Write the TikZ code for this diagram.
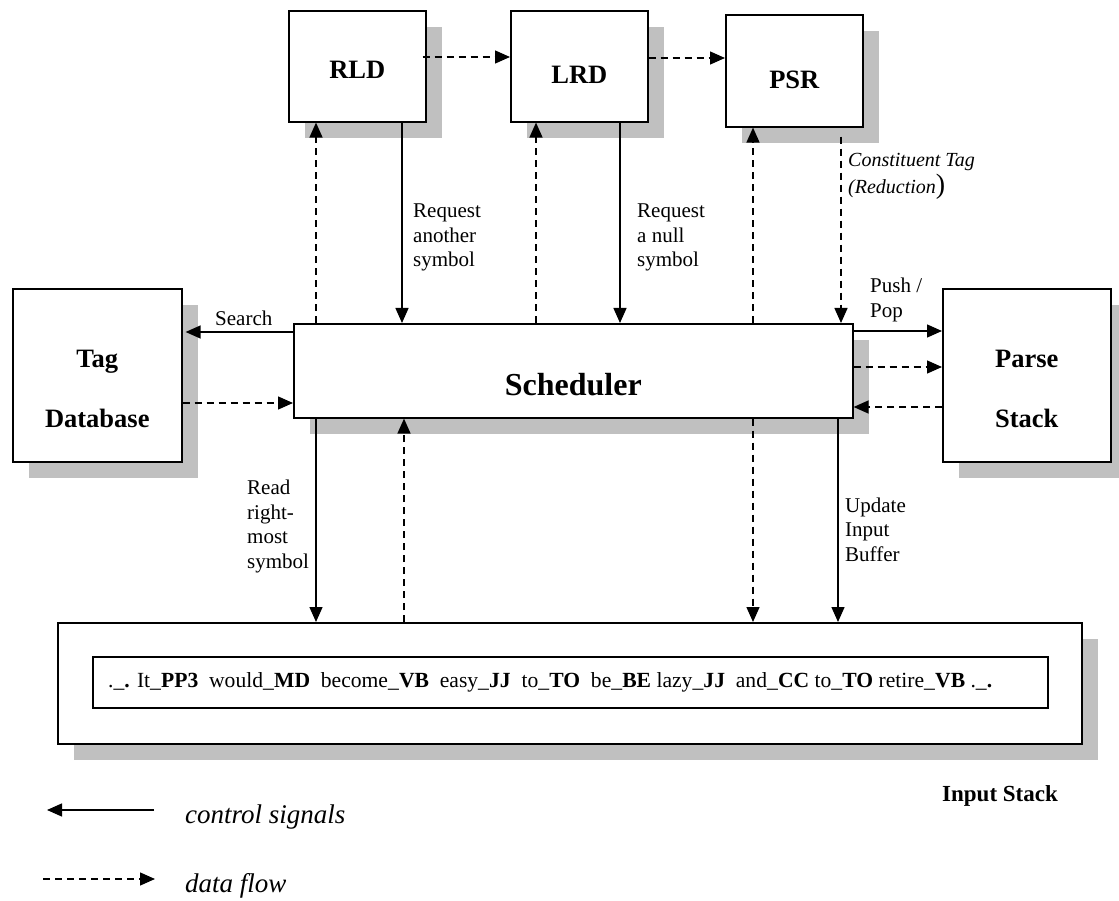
\documentclass[tikz,border=0pt]{standalone}
\usepackage{fontspec}
\setmainfont{Liberation Serif}
\usetikzlibrary{arrows.meta,shadows,calc}
\definecolor{shadowgray}{RGB}{192,192,192}
\begin{document}
\begin{tikzpicture}[x=1pt,y=-1pt,
  box/.style={draw=black, line width=1.6pt, fill=white, inner sep=0pt,
    anchor=north west, align=center,
    font=\bfseries\fontsize{26.5}{60}\selectfont,
    drop shadow={shadow xshift=16pt, shadow yshift=-16pt, fill=shadowgray,
      opacity=1, draw=none}},
  ctrl/.style={line width=1.4pt, -{Triangle[length=15pt,width=13pt]}},
  data/.style={ctrl, dash pattern=on 7pt off 5pt},
  lbl/.style={anchor=base west, inner sep=0pt, align=left,
    font=\fontsize{21}{24.5}\selectfont},
  note/.style={anchor=base west, inner sep=0pt, align=left,
    font=\itshape\fontsize{20}{27}\selectfont},
  legend/.style={anchor=base west, inner sep=0pt,
    font=\itshape\fontsize{27}{30}\selectfont},
]
\useasboundingbox (0,0) rectangle (1119,901);

% processing modules
\node[box, minimum width=137pt, minimum height=111pt, text height=24pt, text depth=0pt]
  (rld) at (288,10) {RLD};
\node[box, minimum width=137pt, minimum height=111pt, text height=34pt, text depth=0pt]
  (lrd) at (510,10) {LRD};
\node[box, minimum width=137pt, minimum height=112pt, text height=35pt, text depth=0pt]
  (psr) at (725,14) {PSR};
\node[box, minimum width=559pt, minimum height=94pt, text height=50pt, text depth=0pt,
  font=\bfseries\fontsize{32}{36}\selectfont]
  (sched) at (293,323) {Scheduler};
\node[box, minimum width=169pt, minimum height=173pt]
  (tagdb) at (12,288) {\rule{0pt}{45pt}Tag\\Database};
\node[box, minimum width=168pt, minimum height=173pt]
  (parse) at (942,288) {\rule{0pt}{45pt}Parse\\Stack};
\node[box, minimum width=1024pt, minimum height=121pt]
  (instack) at (57,622) {};
\node[draw=black, line width=1.6pt, fill=white, inner sep=0pt, anchor=north west,
  minimum width=955pt, minimum height=51pt] (buffer) at (92,656) {};

% tagged sentence held in the input buffer
\node[lbl, font=\fontsize{21.6}{24.5}\selectfont] (sentence) at (108,687)
  {.\_\textbf{.} It\_\textbf{PP3}\ \ would\_\textbf{MD}\ \ become\_\textbf{VB}\ \ easy\_\textbf{JJ}\ \ to\_\textbf{TO}\ \ be\_\textbf{BE} lazy\_\textbf{JJ}\ \ and\_\textbf{CC} to\_\textbf{TO} retire\_\textbf{VB} .\_\textbf{.}};
\node[anchor=base west, inner sep=0pt, font=\bfseries\fontsize{23}{26}\selectfont]
  (instacklbl) at (942,801) {Input Stack};

% scheduler <-> modules
\draw[data] ($(sched.north west)+(23,0)$) -- ($(rld.south west)+(28,0)$);
\draw[ctrl] ($(rld.south west)+(114,0)$) -- ($(sched.north west)+(109,0)$);
\draw[data] ($(sched.north west)+(243,0)$) -- ($(lrd.south west)+(26,0)$);
\draw[ctrl] ($(lrd.south west)+(110,0)$) -- ($(sched.north west)+(327,0)$);
\draw[data] ($(sched.north west)+(460,0)$) -- ($(psr.south west)+(28,0)$);
\draw[data] ($(psr.south west)+(116,9)$) -- ($(sched.north west)+(548,0)$);
\draw[data] ($(rld.north east)+(-4,47)$) -- ($(lrd.north west)+(0,47)$);
\draw[data] ($(lrd.north east)+(0,48)$) -- ($(psr.north west)+(0,44)$);

% tag database
\draw[ctrl] ($(sched.north west)+(0,9)$) -- ($(tagdb.north east)+(3,44)$);
\draw[data] ($(tagdb.north east)+(0,115)$) -- ($(sched.north west)+(0,80)$);

% parse stack
\draw[ctrl] ($(sched.north east)+(0,8)$) -- ($(parse.north west)+(0,43)$);
\draw[data] ($(sched.north east)+(0,44)$) -- ($(parse.north west)+(0,79)$);
\draw[data] ($(parse.north west)+(0,119)$) -- ($(sched.north east)+(0,84)$);

% input stack
\draw[ctrl] ($(sched.south west)+(23,0)$) -- ($(instack.north west)+(259,0)$);
\draw[data] ($(instack.north west)+(347,0)$) -- ($(sched.south west)+(111,0)$);
\draw[data] ($(sched.south west)+(460,0)$) -- ($(instack.north west)+(696,0)$);
\draw[ctrl] ($(sched.south west)+(545,0)$) -- ($(instack.north west)+(781,0)$);

% connector labels (base anchor sits on the last line)
\node[lbl] (lsearch) at (215,326) {Search};
\node[lbl] (lreqa) at (413,267) {Request\\another\\symbol};
\node[lbl] (lreqn) at (637,267) {Request\\a null\\symbol};
\node[note] (lconst) at (848,194) {Constituent Tag\\(Reduction{\upshape\fontsize{28}{27}\selectfont )}};
\node[lbl] (lpush) at (870,317) {Push /\\Pop};
\node[lbl] (lread) at (247,568) {Read\\right-\\most\\symbol};
\node[lbl] (lupd) at (845,561) {Update\\Input\\Buffer};

% legend
\coordinate (ca) at (154,810);
\coordinate (cb) at (47,810);
\draw[ctrl] (ca) -- (cb);
\node[legend] (lctrl) at (185,823) {control signals};
\coordinate (da) at (43,879);
\coordinate (db) at (155,879);
\draw[data] (da) -- (db);
\node[legend] (ldata) at (185,892) {data flow};
\end{tikzpicture}
\end{document}
